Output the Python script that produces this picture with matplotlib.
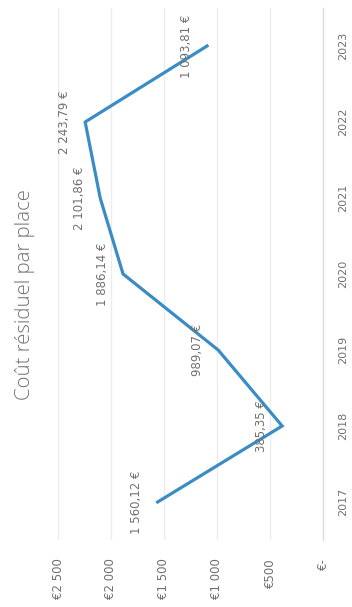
import matplotlib
matplotlib.use("Agg")
import matplotlib.pyplot as plt

# Residual cost per parking place, by year
years = [2017, 2018, 2019, 2020, 2021, 2022, 2023]
cost = [1560.12, 385.35, 989.07, 1886.14, 2101.86, 2243.79, 1093.81]
value_ticks = [0, 500, 1000, 1500, 2000, 2500]
value_tick_labels = ["€-", "€500", "€1 000", "€1 500", "€2 000", "€2 500"]
title = "Coût résiduel par place"

TEXT = "#707070"
LINE = "#3a8cc4"
GRID = "#ececec"

plt.rcParams["font.family"] = ["DejaVu Sans"]


def fr_euro(v):
    whole, dec = f"{v:.2f}".split(".")
    groups = []
    while len(whole) > 3:
        groups.insert(0, whole[-3:])
        whole = whole[:-3]
    groups.insert(0, whole)
    return " ".join(groups) + "," + dec + " €"


W, H = 352, 607
fig = plt.figure(figsize=(W / 100, H / 100), dpi=100)
fig.patch.set_facecolor("white")

# chart turned a quarter-turn: values run right-to-left, years bottom-to-top
left_px, right_px, top_px, bottom_px = 58, 323, 8, 540
ax = fig.add_axes([left_px / W, 1 - bottom_px / H,
                   (right_px - left_px) / W, (bottom_px - top_px) / H])
ax.set_xlim(2500, 0)
ax.set_ylim(years[0] - 0.5, years[-1] + 0.5)

ax.plot(cost, years, color=LINE, lw=2.3, solid_joinstyle="miter", zorder=3)

for v, yr in zip(cost, years):
    ax.annotate(fr_euro(v), (v, yr), xytext=(-21, 0), textcoords="offset pixels",
                rotation=90, ha="center", va="center", fontsize=8.5, color=TEXT,
                zorder=4)

ax.set_xticks(value_ticks)
ax.set_xticklabels(value_tick_labels, rotation=90, va="top", fontsize=8.5, color=TEXT)
ax.set_yticks(years)
ax.yaxis.tick_right()
ax.set_yticklabels([str(y) for y in years], rotation=90, va="center", fontsize=8,
                   color=TEXT)
ax.tick_params(axis="x", length=0, pad=13)
ax.tick_params(axis="y", length=0, pad=11)

ax.grid(axis="x", color=GRID, lw=1.0)
ax.set_axisbelow(True)
for side in ["top", "left", "bottom"]:
    ax.spines[side].set_visible(False)
ax.spines["right"].set_color("#dedede")
ax.spines["right"].set_linewidth(1.0)
ax.set_facecolor("white")

fig.text(25 / W, 1 - 295 / H, title, rotation=90, ha="center", va="center",
         fontsize=14.7, color=TEXT, family=["Open Sans", "DejaVu Sans"],
         fontweight="light")

fig.savefig("out.png", dpi=100, facecolor="white")
